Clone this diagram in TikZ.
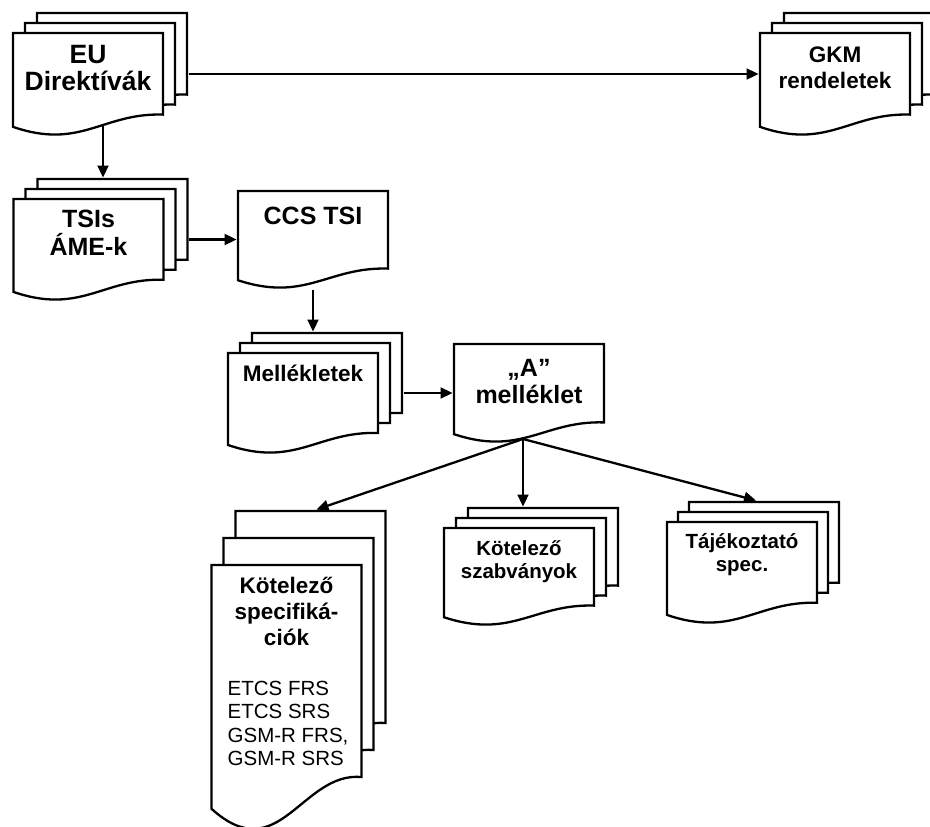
\documentclass[tikz,border=0pt]{standalone}
\usepackage{fontspec}
\setmainfont{Liberation Sans}
\usetikzlibrary{calc}
\usetikzlibrary{backgrounds}
\usetikzlibrary{arrows.meta}

\newcommand{\fsizeX}{\fontsize{26.5}{27.5}\selectfont}
\newcommand{\fsizeL}{\fontsize{25}{27.5}\selectfont}
\newcommand{\fsizeM}{\fontsize{22.5}{26}\selectfont}
\newcommand{\fsizeS}{\fontsize{20.5}{23.5}\selectfont}
\newcommand{\fsizeE}{\fontsize{20.5}{23.3}\selectfont}

% two sheets behind a front page: name, height, dx, dy
\newcommand{\pagestack}[4]{%
	\begin{pgfonlayer}{background}
		\node[page=#2] (#1-3) at ($(#1)+(2*#3,-2*#4)$) {};
		\node[page=#2] (#1-2) at ($(#1)+(#3,-#4)$) {};
	\end{pgfonlayer}}

\begin{document}
\begin{tikzpicture}[x=1pt, y=-1pt]
	\tikzset{page/.style={minimum width=153, minimum height=#1, inner sep=0pt, outer sep=0pt,
		path picture={
			\draw[line width=2.3, fill=white]
				let \p1=(path picture bounding box.north west),
				    \p2=(path picture bounding box.south east),
				    \n1={\x2-\x1-3pt}, \n2={\y1-\y2-3pt} in
				(\x1+1.5pt,\y1-1.5pt) -- (\x2-1.5pt,\y1-1.5pt)
				-- (\x2-1.5pt,\y2+1.5pt+0.2*\n2)
				.. controls (\x1+1.5pt+0.6*\n1,\y2+1.5pt+0.22*\n2)
				        and (\x1+1.5pt+0.45*\n1,\y2+1.5pt-0.15*\n2)
				.. (\x1+1.5pt,\y2+1.5pt+0.08*\n2) -- cycle;
		}}}
	\tikzstyle{txt}=[anchor=north, inner sep=0pt, align=center]
	\tikzstyle{arr}=[-{Triangle[length=12pt,width=11pt]}, line width=2.3]
	
	\useasboundingbox (0,0) rectangle (930,827);
	
	\node[page=105, label={[txt, yshift=-13.5, font=\bfseries\fsizeX]north:EU\\Direktívák}] (eu) at (88,84) {};
	\node[page=105, label={[txt, yshift=-15.5, font=\bfseries\fsizeM]north:GKM\\rendeletek}] (gkm) at (835,84) {};
	\node[page=104, label={[txt, yshift=-12.5, font=\bfseries\fsizeL]north:TSIs\\ÁME-k}] (tsi) at (88.5,249.5) {};
	\node[page=100, label={[txt, yshift=-17.5, font=\bfseries\fsizeL]north:CCS TSI}] (ccs) at (313,239.5) {};
	\node[page=103, label={[txt, yshift=-13.5, font=\bfseries\fsizeM]north:Mellékletek}] (mel) at (303,403) {};
	\node[page=101, label={[txt, yshift=-16.5, font=\bfseries\fsizeL]north:„A”\\melléklet}] (a) at (529,393) {};
	\node[page=100, label={[txt, yshift=-13.5, font=\bfseries\fsizeS]north:Kötelező\\szabványok}] (szab) at (519,576.5) {};
	\node[page=104, label={[txt, yshift=-12.5, font=\bfseries\fsizeS]north:Tájékoztató\\spec.}] (taj) at (742,572.5) {};
	\node[page=268, label={[txt, yshift=-13.5, font=\bfseries\fsizeM]north:Kötelező\\specifiká-\\ciók},
		label={[anchor=north west, inner sep=0pt, align=left, font=\fsizeE, xshift=17.5, yshift=-117.5]north west:ETCS FRS\\ETCS SRS\\GSM-R FRS,\\GSM-R SRS}] (spec) at (286.5,697.5) {};
	
	\pagestack{eu}{105}{12}{10}
	\pagestack{gkm}{105}{12}{10}
	\pagestack{tsi}{104}{12}{10}
	\pagestack{mel}{103}{12}{10}
	\pagestack{szab}{100}{12}{10}
	\pagestack{taj}{104}{11}{10}
	\pagestack{spec}{268}{12}{27}
	
	\begin{pgfonlayer}{background}
		\draw[arr] (eu-3.east |- eu-2) -- (gkm.west |- eu-2);
		\coordinate (eud) at ($(eu)+(15,0)$);
		\draw[arr] (eud) -- (eud |- tsi-3.north);
		\draw[arr] (tsi-3.east |- tsi-2) -- (ccs.west |- tsi-2);
		\draw[arr] (ccs) -- (ccs |- mel-3.north);
		\draw[arr] (mel-3.east |- mel-2) -- (a.west |- mel-2);
		\coordinate (fork) at ($(a.south)+(-6,-4.5)$);
		\draw[arr] (fork) -- ($(spec-3.north)+(6,0)$);
		\draw[arr] (fork) -- (fork |- szab-3.north);
		\draw[arr] (fork) -- ($(taj-3.north)+(-8,0)$);
	\end{pgfonlayer}
\end{tikzpicture}
\end{document}
